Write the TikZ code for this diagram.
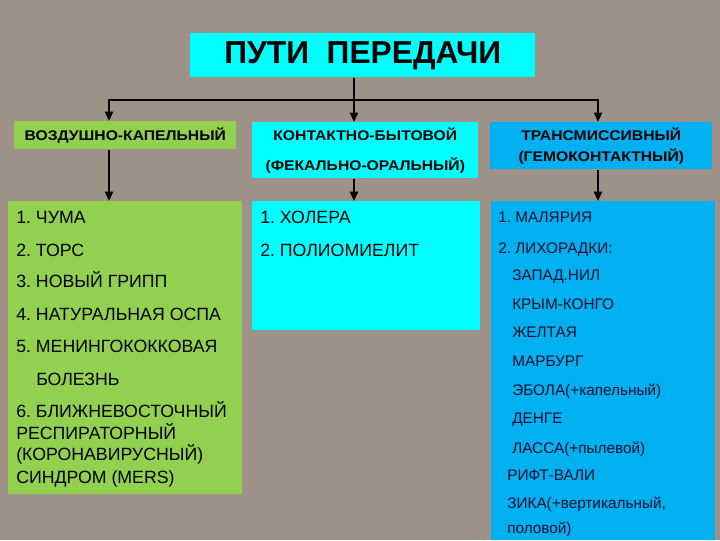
\documentclass[tikz,border=0pt]{standalone}
\usepackage{fontspec}
\setmainfont{Liberation Sans}
\newfontfamily\headfont[FakeStretch=1.12]{Liberation Sans}
\frenchspacing
\usetikzlibrary{positioning,arrows.meta}
\definecolor{granite}{HTML}{9E9188}
\definecolor{aqua}{HTML}{00FFFF}
\definecolor{leaf}{HTML}{92D050}
\definecolor{sky}{HTML}{00B0F0}
\definecolor{ink}{HTML}{101030}
\tikzset{
  box/.style={inner sep=0pt,anchor=north west,align=center},
  conn/.style={line width=1.5pt,-{Triangle[length=7pt,width=6pt]}},
  entry/.style={anchor=base west,inner sep=0pt,font=\fontsize{13.3}{15}\selectfont},
  fever/.style={anchor=base west,inner sep=0pt,text=ink,font=\fontsize{11.5}{14}\selectfont},
}

\begin{document}
\begin{tikzpicture}[x=.75pt,y=-.75pt]
  \fill[granite] (0,0) rectangle (720,540);
  \useasboundingbox (0,0) rectangle (720,540);
  % title and the three routes
  \node[box,fill=aqua,minimum width=258.75pt,minimum height=33pt,font=\bfseries\fontsize{23.8}{28}\selectfont] (title) at (190,33) {\raisebox{-2pt}{ПУТИ\ \ ПЕРЕДАЧИ}};
  \node[box,fill=leaf,minimum width=166.5pt,minimum height=21pt,font=\headfont\bfseries\fontsize{10.5}{13}\selectfont] (air) at (14,121) {ВОЗДУШНО-КАПЕЛЬНЫЙ};
  \node[box,fill=aqua,minimum width=169.5pt,minimum height=42pt,font=\headfont\bfseries\fontsize{10.5}{22.5}\selectfont] (contact) at (252,122) {КОНТАКТНО-БЫТОВОЙ\\(ФЕКАЛЬНО-ОРАЛЬНЫЙ)};
  \node[box,fill=sky,minimum width=166.5pt,minimum height=35.25pt,font=\headfont\bfseries\fontsize{10.5}{15.75}\selectfont] (vector) at (490,122) {ТРАНСМИССИВНЫЙ\\(ГЕМОКОНТАКТНЫЙ)};
  % list panels
  \node[box,fill=leaf,minimum width=175.5pt,minimum height=219.75pt] (airlist) at (8,201) {};
  \node[box,fill=aqua,minimum width=171pt,minimum height=96.75pt] (contactlist) at (252,201) {};
  \node[box,fill=sky,minimum width=168pt,minimum height=254.25pt] (vectorlist) at (491,201) {};
  % connectors
  \coordinate (hub) at (354,100);
  \coordinate (airdrop) at (109,100);
  \coordinate (vectordrop) at (598,100);
  \draw[line width=1.5pt,line cap=rect] (airdrop) -- (vectordrop);
  \draw[conn] (title.south -| hub) -- (contact.north -| hub);
  \draw[conn] (airdrop) -- (air.north -| airdrop);
  \draw[conn] (vectordrop) -- (vector.north -| vectordrop);
  \draw[conn] (air.south -| airdrop) -- (airlist.north -| airdrop);
  \draw[conn] (contact.south -| hub) -- (contactlist.north -| hub);
  \draw[conn] (vector.south -| vectordrop) -- (vectorlist.north -| vectordrop);
  % airborne
  \node[entry] (plague) at (16,223) {1. ЧУМА};
  \node[entry] (sars) at (16,256) {2. ТОРС};
  \node[entry] (flu) at (16,287) {3. НОВЫЙ ГРИПП};
  \node[entry] (smallpox) at (16,320) {4. НАТУРАЛЬНАЯ ОСПА};
  \node[entry] (mening) at (16,352) {5. МЕНИНГОКОККОВАЯ};
  \node[entry] (meningtail) at (36,385) {БОЛЕЗНЬ};
  \node[entry] (mers) at (16,417) {6. БЛИЖНЕВОСТОЧНЫЙ};
  \node[entry] (merstwo) at (16,439) {РЕСПИРАТОРНЫЙ};
  \node[entry] (mersthree) at (16,460) {(КОРОНАВИРУСНЫЙ)};
  \node[entry] (mersfour) at (16,483) {СИНДРОМ (MERS)};
  % contact
  \node[entry] (cholera) at (260,223) {1. ХОЛЕРА};
  \node[entry] (polio) at (260,256) {2. ПОЛИОМИЕЛИТ};
  % transmissive
  \node[fever] (malaria) at (498,222) {1. МАЛЯРИЯ};
  \node[fever] (fevers) at (498,253) {2. ЛИХОРАДКИ:};
  \node[fever] (nile) at (512,280) {ЗАПАД.НИЛ};
  \node[fever] (crimea) at (512,309) {КРЫМ-КОНГО};
  \node[fever] (yellow) at (512,337) {ЖЕЛТАЯ};
  \node[fever] (marburg) at (512,366) {МАРБУРГ};
  \node[fever] (ebola) at (512,395) {ЭБОЛА(+капельный)};
  \node[fever] (dengue) at (512,423) {ДЕНГЕ};
  \node[fever] (lassa) at (512,453) {ЛАССА(+пылевой)};
  \node[fever] (rift) at (507,480) {РИФТ-ВАЛИ};
  \node[fever] (zika) at (507,508) {ЗИКА(+вертикальный,};
  \node[fever] (zikatail) at (507,533) {половой)};
\end{tikzpicture}
\end{document}
